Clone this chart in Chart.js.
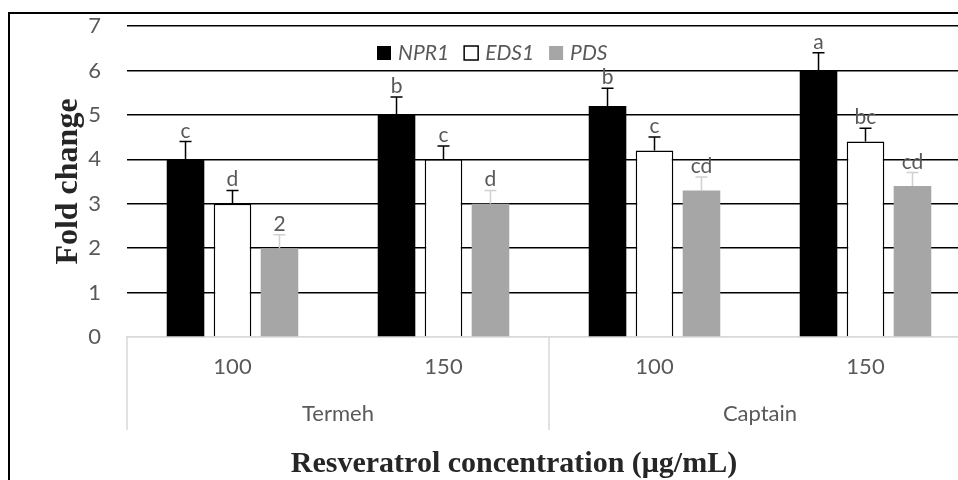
<!DOCTYPE html>
<html>
<head>
<meta charset="utf-8">
<script src="https://cdn.jsdelivr.net/npm/chart.js@4.4.1/dist/chart.umd.min.js"></script>
<style>
    html, body { margin: 0; padding: 0; background: #fff; width: 958px; height: 480px; overflow: hidden; }
    .frame { position: absolute; left: 8px; top: 12px; width: 1100px; height: 600px; border: 2px solid #000; }
    #chart { position: absolute; left: 0; top: 0; }
</style>
</head>
<body>
<div class="frame"></div>
<canvas id="chart" width="1028" height="500"></canvas>
<script>
// concentrations (µg/mL) per cultivar
const categories = ['100', '150', '100', '150'];
const groups = ['Termeh', 'Captain'];
const seriesNames = ['NPR1', 'EDS1', 'PDS'];

const npr1 = [4.0, 5.0, 5.2, 6.0];
const eds1 = [3.0, 4.0, 4.2, 4.4];
const pds = [2.0, 3.0, 3.3, 3.4];

const npr1Err = [0.4, 0.4, 0.4, 0.4];
const eds1Err = [0.3, 0.3, 0.3, 0.3];
const pdsErr = [0.3, 0.3, 0.3, 0.3];

const npr1Letters = ['c', 'b', 'b', 'a'];
const eds1Letters = ['d', 'c', 'c', 'bc'];
const pdsLetters = ['2', 'd', 'cd', 'cd'];

const yMax = 7;

const textGray = '#595959';
const tickFont = { family: 'Lato', size: 22 };

// error bars + significance letters
const errorBarPlugin = {
    id: 'errorBars',
    afterDatasetsDraw(chart) {
        const ctx = chart.ctx;
        const y = chart.scales.y;
        chart.data.datasets.forEach((ds, i) => {
            const meta = chart.getDatasetMeta(i);
            meta.data.forEach((bar, j) => {
                const top = y.getPixelForValue(ds.data[j] + ds.errors[j]);
                ctx.save();
                ctx.strokeStyle = ds.errorColor;
                ctx.lineWidth = 1.5;
                ctx.beginPath();
                ctx.moveTo(bar.x, bar.y);
                ctx.lineTo(bar.x, top);
                ctx.moveTo(bar.x - 6, top);
                ctx.lineTo(bar.x + 6, top);
                ctx.stroke();
                ctx.fillStyle = textGray;
                ctx.font = '21px Lato';
                ctx.textAlign = 'center';
                ctx.textBaseline = 'alphabetic';
                ctx.fillText(ds.letters[j], bar.x, top - 4);
                ctx.restore();
            });
        });
    }
};

// legend sits inside the plot, plus group dividers under the axis
const extrasPlugin = {
    id: 'extras',
    afterDraw(chart) {
        const ctx = chart.ctx;
        const area = chart.chartArea;
        const x2 = chart.scales.x2;
        ctx.save();
        ctx.strokeStyle = '#d9d9d9';
        ctx.lineWidth = 1.5;
        [x2.left, (x2.left + x2.right) / 2, x2.right].forEach(px => {
            ctx.beginPath();
            ctx.moveTo(px, area.bottom);
            ctx.lineTo(px, x2.bottom);
            ctx.stroke();
        });

        let lx = area.left + 250;
        const ly = area.top + 27;
        ctx.font = 'italic 21px Lato';
        ctx.textBaseline = 'middle';
        chart.data.datasets.forEach(ds => {
            ctx.fillStyle = ds.backgroundColor;
            ctx.fillRect(lx, ly - 7, 14, 14);
            if (ds.borderWidth) {
                ctx.strokeStyle = '#000';
                ctx.lineWidth = 1.5;
                ctx.strokeRect(lx, ly - 7, 14, 14);
            }
            ctx.fillStyle = textGray;
            ctx.textAlign = 'left';
            ctx.fillText(ds.label, lx + 21, ly);
            lx += 21 + ctx.measureText(ds.label).width + 15;
        });
        ctx.restore();
    }
};

new Chart(document.getElementById('chart'), {
    type: 'bar',
    data: {
        labels: categories,
        datasets: [
            { label: seriesNames[0], data: npr1, errors: npr1Err, letters: npr1Letters,
              backgroundColor: '#000000', borderWidth: 0, errorColor: '#000000' },
            { label: seriesNames[1], data: eds1, errors: eds1Err, letters: eds1Letters,
              backgroundColor: '#ffffff', borderColor: '#000000', borderWidth: 1.5, errorColor: '#000000' },
            { label: seriesNames[2], data: pds, errors: pdsErr, letters: pdsLetters,
              backgroundColor: '#a6a6a6', borderWidth: 0, errorColor: '#d0d0d0' }
        ]
    },
    options: {
        responsive: false,
        animation: false,
        devicePixelRatio: 1,
        categoryPercentage: 0.668,
        barPercentage: 0.8,
        layout: { padding: { left: 57, right: 57, top: 26, bottom: 0 } },
        plugins: {
            legend: { display: false },
            tooltip: { enabled: false },
            title: {
                display: true,
                position: 'bottom',
                text: 'Resveratrol concentration (μg/mL)',
                color: '#262626',
                font: { family: 'Liberation Serif', size: 30, weight: 'bold' },
                padding: { top: 16.5, bottom: 17.5 }
            }
        },
        scales: {
            y: {
                min: 0,
                max: yMax,
                ticks: { stepSize: 1, color: textGray, font: tickFont, padding: 26 },
                grid: {
                    color: c => c.tick && c.tick.value === 0 ? '#d9d9d9' : '#000000',
                    lineWidth: 1.4,
                    drawTicks: false
                },
                border: { display: false },
                title: {
                    display: true,
                    text: 'Fold change',
                    color: '#262626',
                    font: { family: 'Liberation Serif', size: 32, weight: 'bold' },
                    padding: { top: -7, bottom: 0 }
                },
                afterFit(scale) {
                    scale.width = 70;
                    scale.paddingTop = 0;
                    scale.paddingBottom = 0;
                }
            },
            x: {
                grid: { display: false, drawTicks: false },
                border: { display: true, color: '#d9d9d9', width: 1.5 },
                ticks: { color: textGray, font: tickFont, padding: 17 },
                afterFit(scale) { scale.height = 52; }
            },
            x2: {
                type: 'category',
                position: 'bottom',
                labels: groups,
                offset: true,
                grid: { display: false, drawTicks: false },
                border: { display: false },
                ticks: { color: textGray, font: tickFont, padding: 12 },
                afterFit(scale) { scale.height = 41; }
            }
        }
    },
    plugins: [errorBarPlugin, extrasPlugin]
});
</script>
</body>
</html>
